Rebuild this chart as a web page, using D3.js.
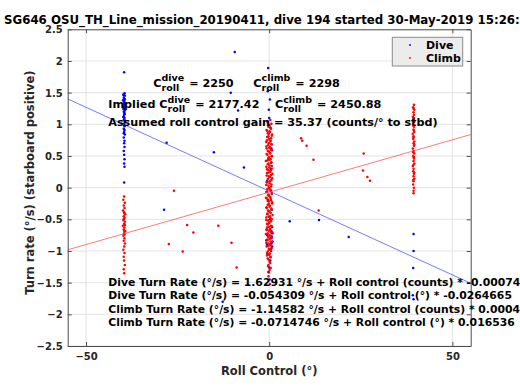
<!DOCTYPE html>
<html>
<head>
<meta charset="utf-8">
<script src="https://cdn.jsdelivr.net/npm/d3@7"></script>
<style>
  body { margin: 0; background: #fff; }
  svg { font-family: "DejaVu Sans", sans-serif; font-weight: bold; }
</style>
</head>
<body>
<svg id="chart" width="520" height="390"></svg>
<script>
// [roll control (deg), turn rate (deg/s)]
const diveData = [
  // -40 column
  [-39.6, 1.82], [-39.5, 1.49], [-39.8, 1.47], [-39.4, 1.45], [-39.7, 1.42], [-39.5, 1.40], [-39.9, 1.38],
  [-39.6, 1.36], [-39.4, 1.33], [-39.7, 1.31], [-39.5, 1.29], [-39.8, 1.27], [-39.6, 1.25], [-39.4, 1.22],
  [-39.7, 1.20], [-39.5, 1.18], [-39.6, 1.15], [-39.8, 1.12], [-39.5, 1.10], [-39.7, 1.07], [-39.4, 1.04],
  [-39.6, 1.01], [-39.5, 0.97], [-39.7, 0.93], [-39.6, 0.88], [-39.4, 0.84], [-39.7, 0.79], [-39.5, 0.74],
  [-39.6, 0.70], [-39.5, 0.64], [-39.7, 0.58], [-39.6, 0.52], [-39.5, 0.45], [-39.6, 0.38], [-39.5, 0.33],
  [-39.6, 0.08], [-39.7, 1.46], [-39.4, 1.39], [-39.6, 1.34], [-39.8, 1.24], [-39.5, 1.16], [-39.7, 1.11],
  [-39.4, 1.06], [-39.6, 0.99], [-39.5, 0.91], [-39.7, 0.86],
  // 0 column
  [-0.3, 1.89], [-0.4, 1.52], [0.2, 1.39], [-0.1, 1.23], [0.0, 1.10], [0.3, 0.95], [-0.5, 0.80],
  [0.6, 0.62], [-0.2, 0.45], [0.4, 0.30], [-0.6, 0.10], [0.5, -0.05], [-0.3, -0.20], [0.7, -0.35],
  [0.2, -0.50], [0.8, -0.62], [-0.7, -0.66], [0.6, -0.69], [0.9, -0.72], [-0.5, -0.75], [0.7, -0.78],
  [0.4, -0.80], [-0.8, -0.83], [0.9, -0.85], [0.6, -0.88], [-0.6, -0.90], [0.8, -0.93], [0.5, -0.97],
  [-0.4, -1.05], [0.3, -1.15], [0.0, -1.26], [-0.2, -1.33], [0.1, -1.45],
  // +40 column
  [39.4, -0.73], [39.4, -1.00], [39.3, -1.27], [39.2, -1.70], [39.4, -1.76],
  // scattered
  [-9.4, 2.14], [-10.5, 1.50], [-8.5, 1.22], [-28.0, 0.71], [-15.1, 0.56], [-6.9, 0.32], [-28.7, -0.35],
  [5.6, -0.53], [13.6, -0.51], [21.7, -0.78], [-12.7, -1.80]
];

const climbData = [
  // -40 column
  [-39.6, -0.14], [-39.8, -0.19], [-39.4, -0.24], [-39.7, -0.28], [-39.5, -0.32], [-39.9, -0.36],
  [-39.6, -0.39], [-39.3, -0.42], [-39.7, -0.45], [-39.5, -0.48], [-39.8, -0.51], [-39.4, -0.54],
  [-39.6, -0.57], [-39.9, -0.60], [-39.5, -0.63], [-39.7, -0.66], [-39.3, -0.69], [-39.6, -0.72],
  [-39.8, -0.76], [-39.5, -0.80], [-39.7, -0.84], [-39.4, -0.88], [-39.6, -0.93], [-39.8, -0.98],
  [-39.5, -1.03], [-39.7, -1.09], [-39.6, -1.15], [-39.4, -1.22], [-39.7, -1.29], [-39.6, -1.35],
  [-39.5, -0.41], [-39.7, -0.50], [-39.4, -0.59], [-39.6, -0.68], [-39.5, -0.74],
  // 0 column
  [0.3, 1.07], [-0.4, 1.03], [0.1, 0.99], [-0.2, 0.96], [0.5, 0.93], [-0.6, 0.90], [0.2, 0.88],
  [-0.1, 0.85], [0.7, 0.82], [-0.5, 0.80], [0.0, 0.77], [0.4, 0.74], [-0.8, 0.72], [0.6, 0.69],
  [-0.3, 0.67], [0.2, 0.64], [-0.7, 0.62], [0.8, 0.59], [-0.1, 0.57], [0.3, 0.54], [-0.5, 0.52],
  [0.6, 0.49], [-0.2, 0.47], [0.1, 0.44], [-0.9, 0.42], [0.5, 0.39], [-0.4, 0.37], [0.7, 0.34],
  [0.0, 0.32], [-0.6, 0.29], [0.4, 0.27], [-0.2, 0.24], [0.9, 0.22], [-0.7, 0.19], [0.2, 0.17],
  [-0.3, 0.14], [0.6, 0.12], [-0.5, 0.09], [0.1, 0.07], [-0.8, 0.04], [0.5, 0.02], [-0.1, -0.01],
  [0.3, -0.03], [-0.6, -0.06], [0.7, -0.08], [-0.2, -0.11], [0.0, -0.13], [-0.9, -0.16], [0.4, -0.18],
  [-0.4, -0.21], [0.8, -0.23], [-0.1, -0.26], [0.2, -0.28], [-0.7, -0.31], [0.6, -0.33], [-0.3, -0.36],
  [0.1, -0.38], [-0.5, -0.41], [0.9, -0.43], [-0.2, -0.46], [0.3, -0.48], [-0.8, -0.51], [0.5, -0.53],
  [0.0, -0.56], [-0.4, -0.58], [0.7, -0.61], [-0.6, -0.63], [0.2, -0.66], [-0.1, -0.68], [0.4, -0.71],
  [-0.9, -0.73], [0.6, -0.76], [-0.3, -0.78], [0.1, -0.81], [-0.5, -0.83], [0.8, -0.86], [-0.2, -0.88],
  [0.3, -0.91], [-0.7, -0.93], [0.5, -0.96], [0.0, -0.98], [-0.4, -1.01], [0.2, -1.04], [-0.6, -1.07],
  [0.4, -1.10], [-0.1, -1.14], [0.3, -1.19], [-0.3, -1.24], [0.1, -1.30], [-0.2, -1.40], [0.2, -1.52],
  [-0.5, 1.05], [0.6, 1.01], [-0.3, 0.98], [0.4, 0.94], [-0.7, 0.91], [0.1, 0.89], [-0.4, 0.86],
  [0.8, 0.84], [-0.2, 0.81], [0.5, 0.78], [-0.6, 0.75], [0.3, 0.73], [-0.1, 0.70], [0.7, 0.68],
  [-0.8, 0.65], [0.0, 0.63], [0.5, 0.60], [-0.4, 0.58], [0.2, 0.55], [-0.7, 0.53], [0.8, 0.50],
  [-0.1, 0.48], [0.4, 0.45], [-0.5, 0.43], [0.6, 0.40], [-0.2, 0.38], [0.1, 0.35], [-0.8, 0.33],
  [0.7, 0.30], [-0.3, 0.28], [0.3, 0.25], [-0.6, 0.23], [0.5, 0.20], [-0.1, 0.18], [0.8, 0.15],
  [-0.4, 0.13], [0.2, 0.10], [-0.7, 0.08], [0.6, 0.05], [-0.2, 0.03], [0.0, 0.00], [-0.5, -0.02],
  [0.4, -0.05], [-0.8, -0.07], [0.7, -0.10], [-0.3, -0.12], [0.3, -0.15], [-0.6, -0.17], [0.5, -0.20],
  [-0.1, -0.22], [0.8, -0.25], [-0.4, -0.27], [0.1, -0.30], [-0.7, -0.32], [0.6, -0.35], [-0.2, -0.37],
  [0.4, -0.40], [-0.5, -0.42], [0.2, -0.45], [-0.8, -0.47], [0.7, -0.50], [-0.3, -0.52], [0.0, -0.55],
  [-0.6, -0.57], [0.5, -0.60], [-0.1, -0.62], [0.3, -0.65], [-0.7, -0.67], [0.8, -0.70], [-0.4, -0.72],
  [0.1, -0.75], [-0.2, -0.77], [0.6, -0.80], [-0.5, -0.82], [0.4, -0.85], [-0.8, -0.87], [0.2, -0.90],
  [-0.3, -0.92], [0.7, -0.95], [-0.1, -0.97], [0.5, -1.00], [-0.6, -1.03], [0.0, -1.06], [0.3, -1.09],
  [-0.4, -1.12], [0.1, -1.17], [-0.2, -1.22], [0.4, -1.27], [-0.1, -1.34],
  // +40 column
  [39.5, 1.31], [39.3, 1.27], [39.6, 1.23], [39.4, 1.19], [39.5, 1.15], [39.2, 1.12], [39.4, 1.08],
  [39.6, 1.04], [39.3, 1.00], [39.5, 0.96], [39.4, 0.92], [39.6, 0.88], [39.2, 0.85], [39.4, 0.81],
  [39.3, 0.77], [39.6, 0.73], [39.4, 0.70], [39.5, 0.66], [39.2, 0.62], [39.4, 0.58], [39.6, 0.54],
  [39.3, 0.50], [39.5, 0.46], [39.4, 0.42], [39.6, 0.38], [39.2, 0.34], [39.4, 0.30], [39.3, 0.26],
  [39.5, 0.22], [39.4, 0.18], [39.6, 0.14], [39.4, 0.10], [39.3, 0.05], [39.5, 0.00], [39.4, -0.05],
  [39.4, -0.09], [39.4, 1.25], [39.5, 1.10], [39.3, 0.98], [39.5, 0.90], [39.4, 0.79], [39.6, 0.68],
  [39.3, 0.56], [39.5, 0.48], [39.4, 0.36], [39.6, 0.24], [39.3, 0.12],
  // scattered
  [-26.0, -0.05], [-22.4, -0.59], [-20.7, -0.71], [-13.9, -0.60], [-10.3, -0.87], [-27.4, -0.89],
  [-23.6, -1.01], [-8.9, -1.26], [8.7, 0.78], [9.0, 0.74], [10.2, 0.66], [12.1, 0.44], [25.8, 0.54],
  [25.6, 0.27], [26.8, 0.17], [27.5, 0.11], [13.5, -0.36]
];

// fitted lines, end points at the axis limits
const fitRoll = [-55, 55];
const diveFit = [1.401, -1.510];
const climbFit = [-0.981, 0.838];

const xTicks = [-50, 0, 50];
const yTicks = [-2.5, -2, -1.5, -1, -0.5, 0, 0.5, 1, 1.5, 2, 2.5];

const titleText = "SG646 OSU_TH_Line_mission_20190411, dive 194 started 30-May-2019 15:26:24";
const fitTexts = [
  "Dive Turn Rate (°/s) = 1.62931 °/s + Roll control (counts) * -0.000748278",
  "Dive Turn Rate (°/s) = -0.054309 °/s + Roll control (°) * -0.0264665",
  "Climb Turn Rate (°/s) = -1.14582 °/s + Roll control (counts) * 0.000467516",
  "Climb Turn Rate (°/s) = -0.0714746 °/s + Roll control (°) * 0.016536"
];

const margin = {top: 29.3, right: 49.3, bottom: 44, left: 67.7};
const width = 520 - margin.left - margin.right;
const height = 390 - margin.top - margin.bottom;

const svg = d3.select("#chart");
const g = svg.append("g").attr("transform", `translate(${margin.left},${margin.top})`);

const x = d3.scaleLinear().domain([-55, 55]).range([0, width]);
const y = d3.scaleLinear().domain([-2.5, 2.5]).range([height, 0]);

// grid
g.append("g").selectAll("line").data(yTicks).enter().append("line")
  .attr("x1", 0).attr("x2", width)
  .attr("y1", d => y(d)).attr("y2", d => y(d))
  .attr("stroke", "#e3e3e3").attr("stroke-width", 1);
g.append("g").selectAll("line").data(xTicks).enter().append("line")
  .attr("y1", 0).attr("y2", height)
  .attr("x1", d => x(d)).attr("x2", d => x(d))
  .attr("stroke", "#e3e3e3").attr("stroke-width", 1);

// scatter
g.append("g").selectAll("circle").data(diveData).enter().append("circle")
  .attr("cx", d => x(d[0])).attr("cy", d => y(d[1])).attr("r", 1.25).attr("fill", "#0000ff");
g.append("g").selectAll("circle").data(climbData).enter().append("circle")
  .attr("cx", d => x(d[0])).attr("cy", d => y(d[1])).attr("r", 1.25).attr("fill", "#ff0000");

// fit lines
const line = d3.line().x(d => x(d[0])).y(d => y(d[1]));
g.append("path").datum(fitRoll.map((r, i) => [r, diveFit[i]]))
  .attr("d", line).attr("fill", "none").attr("stroke", "#4040ff").attr("stroke-width", 0.7);
g.append("path").datum(fitRoll.map((r, i) => [r, climbFit[i]]))
  .attr("d", line).attr("fill", "none").attr("stroke", "#ff4040").attr("stroke-width", 0.7);

// axes (box with inward ticks)
const axisColor = "#4d4d4d";
const xAxis = g.append("g").attr("transform", `translate(0,${height})`)
  .call(d3.axisBottom(x).tickValues(xTicks).tickSizeInner(-4).tickSizeOuter(0).tickPadding(7));
const xTop = g.append("g")
  .call(d3.axisTop(x).tickValues(xTicks).tickSizeInner(-4).tickSizeOuter(0).tickFormat(""));
const yAxis = g.append("g")
  .call(d3.axisLeft(y).tickValues(yTicks).tickSizeInner(-4).tickSizeOuter(0).tickPadding(5).tickFormat(d3.format("")));
const yRight = g.append("g").attr("transform", `translate(${width},0)`)
  .call(d3.axisRight(y).tickValues(yTicks).tickSizeInner(-4).tickSizeOuter(0).tickFormat(""));
[xAxis, xTop, yAxis, yRight].forEach(a => {
  a.select(".domain").attr("stroke", axisColor);
  a.selectAll(".tick line").attr("stroke", axisColor);
  a.selectAll(".tick text").attr("fill", "#262626")
    .style("font-family", "DejaVu Sans").style("font-weight", "bold").style("font-size", "10px");
});
yAxis.selectAll(".tick text").attr("dy", "0.36em");

// axis labels
svg.append("text")
  .attr("x", margin.left + width / 2).attr("y", 375)
  .attr("text-anchor", "middle").attr("fill", "#262626").style("font-size", "11.5px")
  .text("Roll Control (°)");
svg.append("text")
  .attr("transform", `translate(34,${margin.top + height / 2 - 5}) rotate(-90)`)
  .attr("text-anchor", "middle").attr("fill", "#262626").style("font-size", "11.5px")
  .text("Turn rate (°/s) (starboard positive)");

// title
svg.append("text")
  .attr("x", 4).attr("y", 23.5)
  .attr("fill", "#000").style("font-size", "11.8px")
  .text(titleText);

// C_roll^dive style labels
function stackLabel(px, py, prefix, sup, suffix) {
  const t = svg.append("text").attr("x", px).attr("y", py).style("font-size", "11.2px").text(prefix + "C");
  const w = t.node().getComputedTextLength();
  const s1 = svg.append("text").attr("x", px + w).attr("y", py - 5.5).style("font-size", "9.5px").text(sup);
  const s2 = svg.append("text").attr("x", px + w).attr("y", py + 4).style("font-size", "9.5px").text("roll");
  const w2 = Math.max(s1.node().getComputedTextLength(), s2.node().getComputedTextLength());
  svg.append("text").attr("x", px + w + w2 + 5).attr("y", py).style("font-size", "11.2px").text(suffix);
}
stackLabel(153.3, 86.5, "", "dive", "= 2250");
stackLabel(253.3, 86.5, "", "climb", "= 2298");
stackLabel(108.3, 108.3, "Implied ", "dive", "= 2177.42");
stackLabel(275, 108.3, "", "climb", "= 2450.88");
svg.append("text").attr("x", 108.3).attr("y", 125.7).style("font-size", "11.2px")
  .text("Assumed roll control gain = 35.37 (counts/° to stbd)");

// fit equations
svg.append("g").selectAll("text").data(fitTexts).enter().append("text")
  .attr("x", 108.3).attr("y", (d, i) => 286 + i * 13.3)
  .style("font-size", "10.8px").text(d => d);

// legend
const leg = svg.append("g").attr("transform", "translate(392.3,37.3)");
leg.append("rect").attr("width", 70.4).attr("height", 28.7)
  .attr("fill", "#ececec").attr("stroke", "#8c8c8c").attr("stroke-width", 1);
const legItems = [["Dive", "#0000ff"], ["Climb", "#ff0000"]];
leg.selectAll("circle").data(legItems).enter().append("circle")
  .attr("cx", 17.7).attr("cy", (d, i) => 7.7 + i * 13).attr("r", 0.9).attr("fill", d => d[1]);
leg.selectAll("text.item").data(legItems).enter().append("text")
  .attr("x", 33.7).attr("y", (d, i) => 11.5 + i * 13)
  .style("font-size", "11px").text(d => d[0]);
</script>
</body>
</html>
